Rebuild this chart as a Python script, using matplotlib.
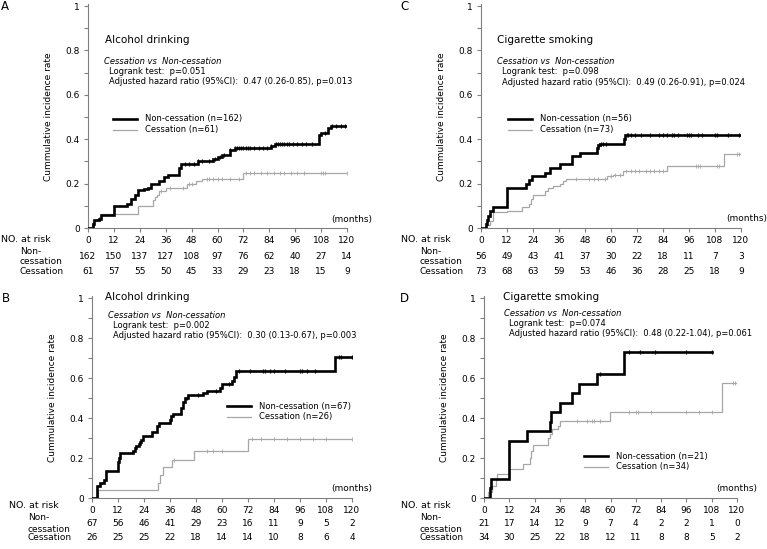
import numpy as np
import matplotlib
matplotlib.use("Agg")
import matplotlib.pyplot as plt
import matplotlib.transforms as mtransforms

plt.rcParams['font.family'] = ['DejaVu Sans']

months = [0, 12, 24, 36, 48, 60, 72, 84, 96, 108, 120]

# Panel A - alcohol drinking
a_non_t = [0, 2.5, 3, 5, 6, 12, 18, 20, 22, 23, 26, 28, 29, 33, 35, 37, 42, 43, 51, 58, 60, 62, 65.6, 68, 85, 86.5, 107, 108, 111, 112.5]
a_non_v = [0, 0.02, 0.035, 0.04, 0.06, 0.10, 0.11, 0.13, 0.15, 0.17, 0.175, 0.18, 0.20, 0.21, 0.23, 0.24, 0.27, 0.29, 0.30, 0.31, 0.32, 0.33, 0.35, 0.36, 0.37, 0.38, 0.42, 0.43, 0.45, 0.46]
a_non_cens = [45, 47, 49, 51, 53, 56, 59, 61, 63, 66, 68, 69, 70, 71, 72, 73, 74, 75, 77, 79, 81, 83, 85, 87, 88, 89, 90, 91, 92, 93, 95, 97, 99, 101, 104, 110, 113, 115, 117, 119]
a_ces_t = [0, 2, 3, 5, 6, 23, 30, 31, 32, 33, 36, 46, 50, 53, 72]
a_ces_v = [0, 0.016, 0.033, 0.05, 0.065, 0.098, 0.125, 0.14, 0.15, 0.165, 0.18, 0.20, 0.21, 0.22, 0.25]
a_ces_cens = [34, 38, 44, 47, 48, 55, 56, 58, 60, 62, 66, 70, 73, 75, 77, 80, 83, 86, 89, 91, 94, 97, 100, 108, 109, 110, 120]
a_risk_non = [162, 150, 137, 127, 108, 97, 76, 62, 40, 27, 14]
a_risk_ces = [61, 57, 55, 50, 45, 33, 29, 23, 18, 15, 9]

# Panel B - alcohol drinking
b_non_t = [0, 2.5, 3.5, 5.4, 6.3, 12, 12.5, 13, 18.7, 19.8, 20.5, 21.5, 22.2, 22.8, 23.5, 27.5, 30, 31, 36, 36.5, 37.5, 41.3, 42, 42.9, 44.4, 51.4, 53, 59, 60.2, 64.5, 65.5, 66.3, 112]
b_non_v = [0, 0.06, 0.075, 0.09, 0.135, 0.18, 0.2, 0.225, 0.235, 0.25, 0.26, 0.27, 0.28, 0.29, 0.31, 0.33, 0.36, 0.375, 0.39, 0.41, 0.42, 0.45, 0.48, 0.50, 0.515, 0.525, 0.535, 0.55, 0.57, 0.585, 0.605, 0.635, 0.705]
b_non_cens = [44, 49, 57, 63, 68, 73, 79, 80, 82, 84, 89, 96, 97, 99, 103, 114, 115, 120]
b_ces_t = [0, 2.8, 30.5, 31.3, 32.9, 36.7, 47.2, 72.2]
b_ces_v = [0, 0.04, 0.077, 0.115, 0.155, 0.19, 0.235, 0.295]
b_ces_cens = [38, 53, 56, 60, 74, 78, 84, 90, 96, 102, 108, 120]
b_risk_non = [67, 56, 46, 41, 29, 23, 16, 11, 9, 5, 2]
b_risk_ces = [26, 25, 25, 22, 18, 14, 14, 10, 8, 6, 4]

# Panel C - cigarette smoking
c_non_t = [0, 2.3, 2.7, 3.4, 4.2, 5.7, 12, 20.8, 22, 23.7, 29.6, 32, 36.5, 42.2, 45.5, 53.5, 54.2, 55, 65.8, 66.5]
c_non_v = [0, 0.018, 0.036, 0.055, 0.075, 0.093, 0.18, 0.2, 0.215, 0.233, 0.25, 0.27, 0.29, 0.325, 0.34, 0.36, 0.375, 0.38, 0.40, 0.42]
c_non_cens = [54.5, 55.5, 56.5, 57.5, 67.5, 68, 69, 71, 74, 78, 82, 84, 86, 88, 89, 91, 95, 96, 97, 100, 102, 108, 109, 114, 119]
c_ces_t = [0, 2.3, 4, 5.4, 12, 18.8, 22, 23, 24, 29.6, 31, 33.4, 36.5, 38, 39, 58, 61, 65.5, 85.8, 112]
c_ces_v = [0, 0.015, 0.03, 0.07, 0.078, 0.095, 0.11, 0.13, 0.15, 0.165, 0.18, 0.19, 0.2, 0.21, 0.22, 0.235, 0.24, 0.255, 0.28, 0.335]
c_ces_cens = [44, 50, 52, 54, 57, 60, 62, 64, 67, 69, 71, 73, 76, 78, 80, 82, 84, 99, 100, 101, 109, 110, 118, 119]
c_risk_non = [56, 49, 43, 41, 37, 30, 22, 18, 11, 7, 3]
c_risk_ces = [73, 68, 63, 59, 53, 46, 36, 28, 25, 18, 9]

# Panel D - cigarette smoking
d_non_t = [0, 2.7, 3.5, 11.9, 20.4, 31.2, 31.7, 36.1, 41.8, 45.2, 53.4, 66.6]
d_non_v = [0, 0.05, 0.095, 0.285, 0.335, 0.38, 0.43, 0.475, 0.525, 0.57, 0.62, 0.73]
d_non_end = 108
d_non_cens = [55, 69, 74, 81, 96, 108]
d_ces_t = [0, 1.9, 3.8, 5.9, 6.3, 11.9, 18.5, 21.7, 22.4, 23.3, 30.4, 31.2, 32.3, 35, 36, 59.8, 112.8]
d_ces_v = [0, 0.03, 0.06, 0.09, 0.12, 0.145, 0.17, 0.2, 0.235, 0.265, 0.3, 0.32, 0.345, 0.36, 0.385, 0.43, 0.575]
d_ces_cens = [44, 49, 51, 52, 55, 69, 72, 73, 79, 96, 102, 108, 118, 119]
d_risk_non = [21, 17, 14, 12, 9, 7, 4, 2, 2, 1, 0]
d_risk_ces = [34, 30, 25, 22, 18, 12, 11, 8, 8, 5, 2]

W, H = 767, 549
fig = plt.figure(figsize=(W / 100, H / 100), dpi=100)
AXC = '#808080'
GRAY = '#a6a6a6'


def fx(x):
    return x / W


def fy(y):
    return 1 - y / H


def step_curve(ax, t, v, end, cens, color, lw, zorder):
    tt = list(t) + [end]
    vv = list(v) + [v[-1]]
    ax.step(tt, vv, where='post', color=color, lw=lw, zorder=zorder, solid_joinstyle='miter')
    idx = np.searchsorted(np.array(t), np.array(cens), side='right') - 1
    cy = np.array(v)[idx]
    ax.plot(cens, cy, ls='none', marker='|', ms=3, mew=0.9 if lw > 1 else 0.6, color=color, zorder=zorder)


def panel(box, letter, letter_xy, title, title_xy, stats_xy, stats, leg_xy, n_non, n_ces,
          curves, months_xy, risk_xy, risk_non, risk_ces, rows):
    l, r, t, b = box
    ax = fig.add_axes([fx(l), fy(b), fx(r - l), (b - t) / H])
    non_t, non_v, non_end, non_c, ces_t, ces_v, ces_c = curves
    step_curve(ax, ces_t, ces_v, 120, ces_c, GRAY, 0.9, 2)
    step_curve(ax, non_t, non_v, non_end, non_c, 'black', 1.9, 3)
    ax.set_xlim(0, 120)
    ax.set_ylim(0, 1)
    for s in ['top', 'right']:
        ax.spines[s].set_visible(False)
    for s in ['left', 'bottom']:
        ax.spines[s].set_color(AXC)
        ax.spines[s].set_linewidth(0.8)
    ax.spines['left'].set_bounds(0, 1.01)
    ax.set_xticks(months)
    ax.set_xticklabels([str(m) for m in months], fontsize=6.5)
    ax.set_yticks([0, 0.2, 0.4, 0.6, 0.8, 1.0])
    ax.set_yticklabels(['0', '0.2', '0.4', '0.6', '0.8', '1'], fontsize=6.5)
    ax.set_yticks(np.arange(0.1, 1.0, 0.2), minor=True)
    ax.tick_params(axis='both', which='both', direction='out', color=AXC, length=3, width=0.8, pad=3)
    ax.set_ylabel('Cummulative incidence rate', fontsize=6.5, labelpad=9)
    ax.patch.set_alpha(0)

    fig.text(fx(letter_xy[0]), fy(letter_xy[1]), letter, fontsize=8.5, va='center', ha='left')
    fig.text(fx(title_xy[0]), fy(title_xy[1]), title, fontsize=7.5, va='center', ha='left')
    sx, sy = stats_xy
    fig.text(fx(sx), fy(sy), 'Cessation vs  Non-cessation', fontsize=6, style='italic', va='center')
    fig.text(fx(sx + 5), fy(sy + 10), 'Logrank test:  p=' + stats[0], fontsize=6, va='center')
    fig.text(fx(sx + 5), fy(sy + 20.5), 'Adjusted hazard ratio (95%CI):  ' + stats[1], fontsize=6, va='center')

    lx, ly = leg_xy
    fig.add_artist(plt.Line2D([fx(lx), fx(lx + 24)], [fy(ly), fy(ly)], color='black', lw=1.9))
    fig.add_artist(plt.Line2D([fx(lx), fx(lx + 24)], [fy(ly + 10.5), fy(ly + 10.5)], color=GRAY, lw=0.9))
    fig.text(fx(lx + 32), fy(ly), 'Non-cessation (n=%d)' % n_non, fontsize=6, va='center')
    fig.text(fx(lx + 32), fy(ly + 10.5), 'Cessation (n=%d)' % n_ces, fontsize=6, va='center')

    fig.text(fx(months_xy[0]), fy(months_xy[1]), '(months)', fontsize=6.5, va='center', ha='right')

    rx, ry = risk_xy
    fig.text(fx(rx), fy(ry), 'NO. at risk', fontsize=6.8, va='center')
    fig.text(fx(rx + 19), fy(rows[0] - 6), 'Non-', fontsize=6.5, va='center')
    fig.text(fx(rx + 19), fy(rows[0] + 5), 'cessation', fontsize=6.5, va='center')
    fig.text(fx(rx + 19), fy(rows[1]), 'Cessation', fontsize=6.5, va='center')
    trans = mtransforms.blended_transform_factory(ax.transData, fig.transFigure)
    for m, a, c in zip(months, risk_non, risk_ces):
        ax.text(m, fy(rows[0]), str(a), transform=trans, fontsize=6.5, ha='center', va='center', clip_on=False)
        ax.text(m, fy(rows[1]), str(c), transform=trans, fontsize=6.5, ha='center', va='center', clip_on=False)
    return ax


panel((88, 347, 6, 228), 'A', (1, 7), 'Alcohol drinking', (105, 40), (104, 61),
      ('0.051', '0.47 (0.26-0.85), p=0.013'), (113, 119), 162, 61,
      (a_non_t, a_non_v, 120, a_non_cens, a_ces_t, a_ces_v, a_ces_cens),
      (372, 220), (1, 239), a_risk_non, a_risk_ces, (257, 272))

panel((481, 741, 6, 228), 'C', (400, 7), 'Cigarette smoking', (497, 40), (497, 62),
      ('0.098', '0.49 (0.26-0.91), p=0.024'), (508, 119), 56, 73,
      (c_non_t, c_non_v, 120, c_non_cens, c_ces_t, c_ces_v, c_ces_cens),
      (767, 219), (401, 239), c_risk_non, c_risk_ces, (257, 272))

panel((92, 352, 298, 498), 'B', (2, 298), 'Alcohol drinking', (105, 297), (108, 315),
      ('0.002', '0.30 (0.13-0.67), p=0.003'), (227, 406), 67, 26,
      (b_non_t, b_non_v, 120, b_non_cens, b_ces_t, b_ces_v, b_ces_cens),
      (372, 488), (9, 505), b_risk_non, b_risk_ces, (524, 538))

panel((484, 737, 298, 498), 'D', (400, 298), 'Cigarette smoking', (503, 297), (504, 313),
      ('0.074', '0.48 (0.22-1.04), p=0.061'), (584, 456), 21, 34,
      (d_non_t, d_non_v, d_non_end, d_non_cens, d_ces_t, d_ces_v, d_ces_cens),
      (757, 489), (401, 505), d_risk_non, d_risk_ces, (524, 538))

fig.savefig('out.png', dpi=100)
